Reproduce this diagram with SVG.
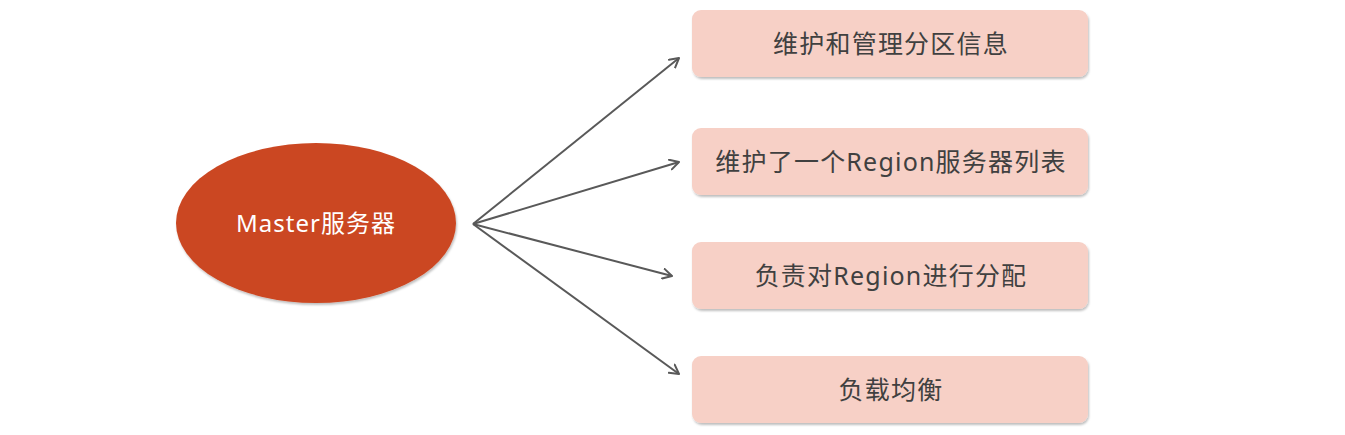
<svg xmlns="http://www.w3.org/2000/svg" width="1345" height="435" viewBox="0 0 1345 435">
<style>
.box{fill:#F7D0C6;filter:url(#sh)}
.t{font-family:"Noto Sans","Noto Sans CJK SC",sans-serif;font-size:25px;letter-spacing:1.2px;fill:#404040;text-anchor:middle;dominant-baseline:central}
.mt{font-family:"Noto Sans","Noto Sans CJK SC",sans-serif;font-size:24px;letter-spacing:1px;fill:#FFFFFF;text-anchor:middle;dominant-baseline:central}
.c{stroke:#595959;stroke-width:2;fill:none;marker-end:url(#ah)}
</style>
<defs>
<filter id="sh" x="-10%" y="-20%" width="120%" height="150%">
<feDropShadow dx="1" dy="2" stdDeviation="1.2" flood-color="#000" flood-opacity="0.25"/>
</filter>
<marker id="ah" viewBox="0 0 12 12" refX="10" refY="6" markerWidth="12" markerHeight="12" markerUnits="userSpaceOnUse" orient="auto">
<path d="M1,1 L10,6 L1,11" fill="none" stroke="#595959" stroke-width="2" stroke-linecap="round" stroke-linejoin="round"/>
</marker>
</defs>
<rect width="1345" height="435" fill="#FFFFFF"/>
<g id="connectors">
<line class="c" x1="473" y1="224" x2="679" y2="58"/>
<line class="c" x1="473" y1="224" x2="679" y2="162"/>
<line class="c" x1="473" y1="224" x2="672" y2="276"/>
<line class="c" x1="473" y1="224" x2="679" y2="374"/>
</g>
<g id="master">
<ellipse cx="316" cy="223" rx="140" ry="80" fill="#CB4721" filter="url(#sh)"/>
<text class="mt" x="316" y="222">Master服务器</text>
</g>
<g id="n1">
<rect class="box" x="692" y="10" width="396" height="67" rx="9"/>
<text class="t" x="891" y="43">维护和管理分区信息</text>
</g>
<g id="n2">
<rect class="box" x="692" y="128" width="396" height="67" rx="9"/>
<text class="t" x="891" y="161">维护了一个Region服务器列表</text>
</g>
<g id="n3">
<rect class="box" x="692" y="242" width="396" height="67" rx="9"/>
<text class="t" x="891" y="275">负责对Region进行分配</text>
</g>
<g id="n4">
<rect class="box" x="692" y="356" width="396" height="67" rx="9"/>
<text class="t" x="891" y="389">负载均衡</text>
</g>
</svg>
